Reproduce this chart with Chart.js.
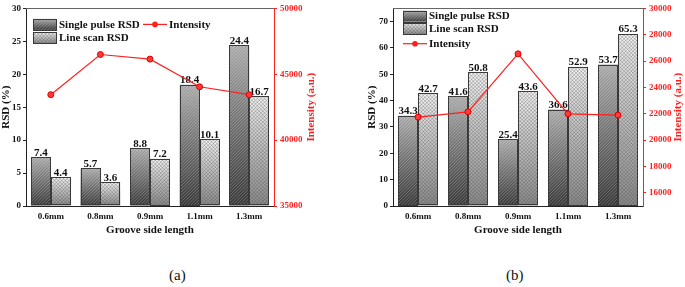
<!DOCTYPE html>
<html><head><meta charset="utf-8">
<script src="https://cdn.jsdelivr.net/npm/chart.js@4/dist/chart.umd.min.js"></script>
<style>
body{margin:0;background:#fff;width:685px;height:287px;position:relative;overflow:hidden;font-family:"Liberation Serif",serif}
#ca{position:absolute;left:0;top:0}
#cb{position:absolute;left:340px;top:0}
.cap{position:absolute;top:267px;font-size:15px;line-height:17px;font-family:"Liberation Serif",serif;color:#111}
</style></head><body>
<canvas id="ca" width="340" height="240"></canvas>
<canvas id="cb" width="345" height="240"></canvas>
<div class="cap" style="left:169px">(a)</div>
<div class="cap" style="left:506px">(b)</div>
<script>
// ---- data ----
const categories = ['0.6mm', '0.8mm', '0.9mm', '1.1mm', '1.3mm'];
const singlePulseA = [7.4, 5.7, 8.8, 18.4, 24.4];
const lineScanA = [4.4, 3.6, 7.2, 10.1, 16.7];
const intensityA = [43450, 46500, 46150, 44050, 43450];
const singlePulseB = [34.3, 41.6, 25.4, 36.6, 53.7];
const lineScanB = [42.7, 50.8, 43.6, 52.9, 65.3];
const intensityB = [21750, 22150, 26550, 22000, 21900];
const rsdTicksA = [0, 5, 10, 15, 20, 25, 30];
const intTicksA = [35000, 40000, 45000, 50000];
const rsdTicksB = [0, 10, 20, 30, 40, 50, 60, 70];
const intTicksB = [16000, 18000, 20000, 22000, 24000, 26000, 28000, 30000];
const seriesNames = ['Single pulse RSD', 'Line scan RSD', 'Intensity'];
const xTitle = 'Groove side length';
const rsdTitle = 'RSD (%)';
const intTitle = 'Intensity (a.u.)';

// ---- styling helpers ----
const F = '"Liberation Serif", "Times New Roman", serif';
const RED = '#ff1f1f';
Chart.defaults.font.family = F;
Chart.defaults.animation = false;

const STY = {
  diag: {light: '#a8a8a8', dark: '#353535'},
  cross: {light: '#f2f2f2', dark: '#8a8a8a'}
};

function barFill(kind) {
  return function (ctx) {
    const s = STY[kind];
    if (ctx.type !== 'data') return s.dark;
    const ch = ctx.chart, ys = ch.scales.y;
    if (!ys) return s.dark;
    const top = ys.getPixelForValue(ctx.raw), base = ys.getPixelForValue(0);
    if (!isFinite(top) || !isFinite(base) || base - top < 1) return s.dark;
    const g = ch.ctx.createLinearGradient(0, top, 0, base);
    g.addColorStop(0, s.light); g.addColorStop(1, s.dark);
    return g;
  };
}

function hatch(c, x, y, w, h, kind) {
  c.save();
  c.beginPath(); c.rect(x, y, w, h); c.clip();
  if (kind === 'diag') {
    c.strokeStyle = 'rgba(255,255,255,0.30)'; c.lineWidth = 0.9;
    for (let s = -h; s < w + h; s += 3.2) {
      c.beginPath(); c.moveTo(x + s, y + h); c.lineTo(x + s + h, y); c.stroke();
    }
  } else {
    c.strokeStyle = 'rgba(70,70,70,0.45)'; c.lineWidth = 0.7;
    for (let s = -h; s < w + h; s += 3.6) {
      c.beginPath(); c.moveTo(x + s, y + h); c.lineTo(x + s + h, y); c.stroke();
      c.beginPath(); c.moveTo(x + s, y); c.lineTo(x + s + h, y + h); c.stroke();
    }
  }
  c.restore();
}

const barDecor = {
  id: 'barDecor',
  afterDatasetDraw(chart, args) {
    const ds = chart.data.datasets[args.index];
    if (ds.type !== 'bar') return;
    const c = chart.ctx;
    args.meta.data.forEach((el, i) => {
      const p = el.getProps(['x', 'y', 'base', 'width'], true);
      const x0 = p.x - p.width / 2, h = p.base - p.y;
      hatch(c, x0, p.y, p.width, h, ds.kind);
      c.save();
      c.strokeStyle = '#3a3a3a'; c.lineWidth = 1;
      c.strokeRect(Math.round(x0) + 0.5, Math.round(p.y) + 0.5, Math.round(p.width) - 1, Math.round(h) - 1);
      c.fillStyle = '#111';
      c.font = 'bold 11px ' + F;
      c.textAlign = 'center'; c.textBaseline = 'alphabetic';
      c.fillText(ds.data[i].toFixed(1), p.x, p.y - 1.5);
      c.restore();
    });
  }
};

const frame = {
  id: 'frame',
  afterDraw(chart, args, opts) {
    const c = chart.ctx, a = chart.chartArea;
    c.save();
    c.strokeStyle = '#666'; c.lineWidth = 1;
    c.beginPath(); c.moveTo(a.left, Math.round(a.top) + 0.5); c.lineTo(a.right, Math.round(a.top) + 0.5); c.stroke();
    // right axis title, rotated to read bottom-to-top
    const r = chart.scales.y1;
    c.translate(r.left + opts.titleOffset, (a.top + a.bottom) / 2);
    c.rotate(-Math.PI / 2);
    c.fillStyle = RED; c.font = 'bold 11px ' + F;
    c.textAlign = 'center'; c.textBaseline = 'middle';
    c.fillText(intTitle, 0, 0);
    c.restore();
    // legend
    const items = opts.items;
    items.forEach(([di, dx, dy]) => {
      const ds = chart.data.datasets[di];
      const x = a.left + dx, yc = a.top + dy;
      c.save();
      if (ds.type === 'bar') {
        const w = 23, h = 11, y0 = yc - h / 2;
        const s = STY[ds.kind];
        const g = c.createLinearGradient(0, y0, 0, y0 + h);
        g.addColorStop(0, s.light); g.addColorStop(1, s.dark);
        c.fillStyle = g; c.fillRect(x, y0, w, h);
        hatch(c, x, y0, w, h, ds.kind);
        c.strokeStyle = '#3a3a3a'; c.lineWidth = 1;
        c.strokeRect(Math.round(x) + 0.5, Math.round(y0) + 0.5, w, h);
      } else {
        c.strokeStyle = RED; c.lineWidth = 1.2;
        c.beginPath(); c.moveTo(x, yc); c.lineTo(x + 24, yc); c.stroke();
        c.fillStyle = RED; c.beginPath(); c.arc(x + 12, yc, 2.8, 0, Math.PI * 2); c.fill();
      }
      c.fillStyle = '#111'; c.font = 'bold 11px ' + F;
      c.textAlign = 'left'; c.textBaseline = 'middle';
      c.fillText(ds.label, x + 26, yc + 0.5);
      c.restore();
    });
  }
};

function makeChart(id, sp, ls, inten, rsdMax, rsdTicks, intMin, intMax, intTicks, leftW, leftTitlePad, rightW, titleOffset, legendItems) {
  const tickFont = {family: F, weight: 'bold', size: 9};
  return new Chart(document.getElementById(id), {
    data: {
      labels: categories,
      datasets: [
        {type: 'bar', label: seriesNames[0], kind: 'diag', data: sp, yAxisID: 'y', order: 2,
          backgroundColor: barFill('diag'), borderWidth: 0, barPercentage: 1, categoryPercentage: 0.8},
        {type: 'bar', label: seriesNames[1], kind: 'cross', data: ls, yAxisID: 'y', order: 2,
          backgroundColor: barFill('cross'), borderWidth: 0, barPercentage: 1, categoryPercentage: 0.8},
        {type: 'line', label: seriesNames[2], data: inten, yAxisID: 'y1', order: 0,
          borderColor: RED, borderWidth: 1.2, pointRadius: 3, pointBackgroundColor: '#ff3a3a',
          pointBorderColor: '#e00000', pointBorderWidth: 1, tension: 0}
      ]
    },
    options: {
      responsive: false,
      animation: false,
      layout: {padding: {top: 5, left: 0, right: 0, bottom: 0}},
      plugins: {legend: {display: false}, tooltip: {enabled: false},
        frame: {titleOffset: titleOffset, items: legendItems}},
      scales: {
        x: {
          grid: {display: false, drawTicks: false},
          border: {color: '#222', width: 1},
          ticks: {color: '#111', font: tickFont, padding: 5, maxRotation: 0},
          title: {display: true, text: xTitle, color: '#111', font: {family: F, weight: 'bold', size: 11}, padding: {top: 0, bottom: 3}},
          afterFit(s) { s.height = 34; }
        },
        y: {
          position: 'left', min: 0, max: rsdMax,
          afterBuildTicks(s) { s.ticks = rsdTicks.map(v => ({value: v})); },
          grid: {drawOnChartArea: false, tickLength: 3, color: '#222'},
          border: {color: '#222', width: 1},
          ticks: {color: '#111', font: tickFont, padding: 2, callback: v => String(v)},
          title: {display: true, text: rsdTitle, color: '#111', font: {family: F, weight: 'bold', size: 11}, padding: {top: leftTitlePad, bottom: 0}},
          afterFit(s) { s.width = leftW; }
        },
        y1: {
          position: 'right', min: intMin, max: intMax,
          afterBuildTicks(s) { s.ticks = intTicks.map(v => ({value: v})); },
          grid: {drawOnChartArea: false, tickLength: 3, color: RED},
          border: {color: RED, width: 1},
          ticks: {color: RED, font: tickFont, padding: 3, callback: v => String(v)},
          afterFit(s) { s.width = rightW; }
        }
      }
    },
    plugins: [barDecor, frame]
  });
}

makeChart('ca', singlePulseA, lineScanA, intensityA, 30, rsdTicksA, 35000, 50000, intTicksA,
  26, 0, 66, 37, [[0, 7, 16], [1, 7, 29.5], [2, 117, 16]]);
makeChart('cb', singlePulseB, lineScanB, intensityB, 75, rsdTicksB, 15000, 30000, intTicksB,
  53, 26, 42, 35, [[0, 10, 7.7], [1, 10, 20.3], [2, 10, 35.3]]);
</script>
</body></html>
